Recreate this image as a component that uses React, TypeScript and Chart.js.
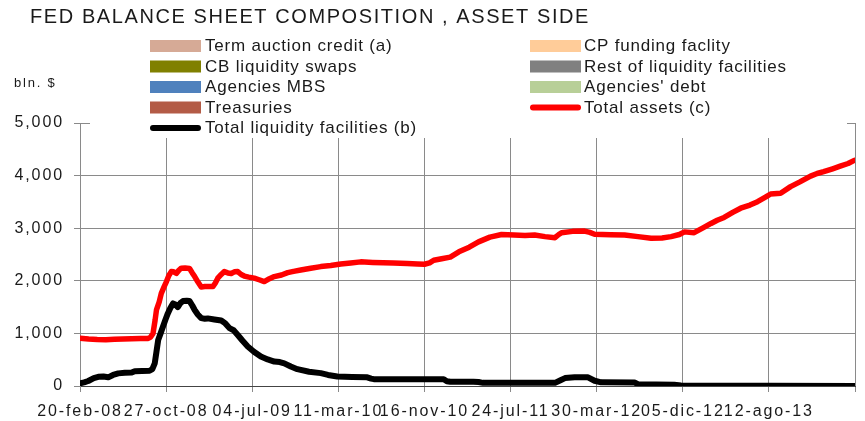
import React, { useEffect, useRef } from 'react';
import { Chart, registerables } from 'chart.js';

Chart.register(...registerables);

// ---- Data (x = days since 20-feb-2008, y = bln. $) ----
const START_DATE_UTC = Date.UTC(2008, 1, 20);
const MONTHS_ES = ['ene', 'feb', 'mar', 'abr', 'may', 'jun', 'jul', 'ago', 'sep', 'oct', 'nov', 'dic'];

const X_MAX_DAYS = 2250;
const X_STEP_DAYS = 250;
const Y_MAX = 5000;
const Y_STEP = 1000;

const totalAssetsDays = [
  0, 25, 50, 75, 100, 125, 150, 175, 198, 205, 212, 218, 222, 230, 236, 245, 251, 258, 265, 272,
  280, 287, 294, 305, 318, 326, 333, 342, 352, 362, 371, 386, 393, 400, 410, 419, 429, 439, 448, 458,
  468, 477, 490, 506, 520, 535, 550, 564, 585, 603, 620, 641, 670, 699, 728, 757, 786, 815, 850, 880,
  910, 950, 980, 1000, 1015, 1027, 1050, 1075, 1100, 1130, 1157, 1190, 1224, 1260, 1292, 1320, 1350, 1379, 1390, 1398,
  1430, 1465, 1480, 1494, 1540, 1581, 1620, 1658, 1690, 1716, 1740, 1755, 1783, 1810, 1832, 1850, 1870, 1895, 1918, 1945,
  1967, 1990, 2005, 2034, 2063, 2090, 2121, 2140, 2159, 2185, 2207, 2230, 2248,
];
const totalAssetsValues = [
  910, 895, 885, 880, 890, 895, 900, 905, 905, 930, 1000, 1250, 1445, 1600, 1760, 1900, 1985, 2100, 2175, 2170,
  2140, 2200, 2240, 2245, 2235, 2150, 2080, 1980, 1880, 1890, 1890, 1890, 1960, 2050, 2120, 2175, 2150, 2140, 2170, 2175,
  2120, 2090, 2070, 2050, 2020, 1985, 2040, 2080, 2110, 2155, 2180, 2205, 2240, 2270, 2290, 2320, 2340, 2360, 2350, 2345,
  2340, 2330, 2320, 2315, 2340, 2390, 2420, 2450, 2550, 2640, 2740, 2830, 2880, 2870, 2860, 2870, 2840, 2820, 2880, 2915,
  2940, 2945, 2920, 2885, 2875, 2870, 2840, 2810, 2815, 2840, 2880, 2930, 2915, 3010, 3090, 3150, 3205, 3300, 3380, 3440,
  3505, 3590, 3650, 3665, 3790, 3880, 3990, 4040, 4075, 4130, 4180, 4230, 4290,
];

const liquidityDays = [
  0, 12, 24, 40, 53, 68, 82, 96, 111, 130, 150, 159, 180, 202, 210, 217, 222, 227, 234, 241,
  248, 255, 262, 270, 277, 284, 292, 299, 310, 318, 326, 333, 342, 352, 362, 371, 390, 410, 422, 434,
  446, 458, 472, 487, 505, 525, 545, 564, 580, 593, 612, 631, 665, 699, 720, 747, 790, 834, 845, 853,
  950, 1056, 1065, 1075, 1142, 1157, 1170, 1300, 1379, 1395, 1408, 1436, 1475, 1494, 1513, 1610, 1620, 1725, 1745, 1800,
  2000, 2248,
];
const liquidityValues = [
  50, 70, 95, 150, 175, 180, 165, 210, 240, 250, 255, 280, 285, 290, 320, 430, 650, 875, 1000, 1130,
  1260, 1380, 1480, 1570, 1550, 1500, 1580, 1615, 1620, 1615, 1530, 1445, 1360, 1290, 1280, 1285, 1265, 1245, 1190, 1100,
  1060, 970, 860, 750, 650, 560, 505, 465, 455, 430, 370, 320, 270, 245, 210, 180, 170, 165, 140, 130,
  130, 127, 90, 80, 80, 75, 60, 60, 60, 110, 150, 165, 165, 100, 70, 65, 35, 25, 10, 5,
  3, 2,
];

// ---- Legend ----
const legendLeftLabels = [
  'Term auction credit (a)',
  'CB liquidity swaps',
  'Agencies MBS',
  'Treasuries',
  'Total liquidity facilities (b)',
];
const legendLeftColors = ['#D6AA96', '#808000', '#4F81BD', '#B35B46', '#000000'];
const legendLeftKinds = ['box', 'box', 'box', 'box', 'line'];

const legendRightLabels = [
  'CP funding faclity',
  'Rest of liquidity facilities',
  "Agencies' debt",
  'Total assets (c)',
];
const legendRightColors = ['#FFCC99', '#808080', '#B8CF98', '#FF0000'];
const legendRightKinds = ['box', 'box', 'box', 'line'];

const TITLE = 'FED BALANCE SHEET COMPOSITION , ASSET SIDE';
const UNIT_LABEL = 'bln. $';

const FONT = '"Liberation Sans", Arial, sans-serif';
const TEXT_COLOR = '#1a1a1a';
const GRID_COLOR = '#8a8a8a';

function dayLabel(d: number): string {
  const dt = new Date(START_DATE_UTC + d * 86400000);
  const dd = String(dt.getUTCDate()).padStart(2, '0');
  const yy = String(dt.getUTCFullYear()).slice(2);
  return `${dd}-${MONTHS_ES[dt.getUTCMonth()]}-${yy}`;
}

const overlayPlugin = {
  id: 'overlay',
  beforeDraw(chart: any) {
    chart.ctx.letterSpacing = '1.9px';
  },
  afterDraw(chart: any) {
    const ctx: CanvasRenderingContext2D = chart.ctx;
    const area = chart.chartArea;
    ctx.save();
    (ctx as any).letterSpacing = '0px';

    // legend background covering top of plot
    ctx.fillStyle = '#ffffff';
    ctx.fillRect(area.left + 10, 28, area.right - area.left - 18, area.top + 15 - 28);

    // title
    ctx.fillStyle = TEXT_COLOR;
    ctx.font = `20px ${FONT}`;
    ctx.textBaseline = 'middle';
    ctx.textAlign = 'left';
    const w0 = ctx.measureText(TITLE).width;
    const ls = (560 - w0) / TITLE.length;
    (ctx as any).letterSpacing = `${ls}px`;
    ctx.fillText(TITLE, 30, 17);

    // unit label
    ctx.font = `13px ${FONT}`;
    (ctx as any).letterSpacing = '1.8px';
    ctx.fillText(UNIT_LABEL, 14, 83);

    // legend
    ctx.font = `17px ${FONT}`;
    (ctx as any).letterSpacing = '0.8px';
    const drawColumn = (labels: string[], colors: string[], kinds: string[], x1: number, x2: number, tx: number) => {
      labels.forEach((lab, i) => {
        const cy = 46 + i * 20.5;
        if (kinds[i] === 'box') {
          ctx.fillStyle = colors[i];
          ctx.fillRect(x1, cy - 6, x2 - x1, 12);
        } else {
          ctx.strokeStyle = colors[i];
          ctx.lineWidth = 6;
          ctx.lineCap = 'round';
          ctx.beginPath();
          ctx.moveTo(x1 + 3, cy);
          ctx.lineTo(x2 - 3, cy);
          ctx.stroke();
        }
        ctx.fillStyle = TEXT_COLOR;
        ctx.fillText(lab, tx, cy + 0.5);
      });
    };
    drawColumn(legendLeftLabels, legendLeftColors, legendLeftKinds, 150, 201, 205);
    drawColumn(legendRightLabels, legendRightColors, legendRightKinds, 530, 581, 584);

    ctx.restore();
  },
};

export default function App() {
  const canvasRef = useRef<HTMLCanvasElement | null>(null);

  useEffect(() => {
    document.body.style.margin = '0';
    const canvas = canvasRef.current;
    if (!canvas) return;

    const chart = new Chart(canvas, {
      type: 'line',
      data: {
        datasets: [
          {
            label: 'Total assets (c)',
            data: totalAssetsDays.map((d, i) => ({ x: d, y: totalAssetsValues[i] })),
            borderColor: '#FF0000',
            borderWidth: 5.5,
            pointRadius: 0,
            tension: 0,
            borderJoinStyle: 'round',
            borderCapStyle: 'round',
            fill: false,
          },
          {
            label: 'Total liquidity facilities (b)',
            data: liquidityDays.map((d, i) => ({ x: d, y: liquidityValues[i] })),
            borderColor: '#000000',
            borderWidth: 6,
            pointRadius: 0,
            tension: 0,
            borderJoinStyle: 'round',
            borderCapStyle: 'round',
            fill: false,
          },
        ],
      },
      options: {
        animation: false,
        responsive: false,
        devicePixelRatio: 1,
        layout: { padding: { top: 123, right: 7, left: 0, bottom: 0 } },
        plugins: {
          legend: { display: false },
          title: { display: false },
          tooltip: { enabled: false },
        },
        scales: {
          x: {
            type: 'linear',
            min: 0,
            max: X_MAX_DAYS,
            afterFit: (scale: any) => {
              scale.height = 35;
            },
            grid: {
              color: GRID_COLOR,
              lineWidth: 1,
              tickLength: 6,
              drawOnChartArea: true,
            },
            border: { display: true, color: '#444444', width: 1 },
            ticks: {
              stepSize: X_STEP_DAYS,
              autoSkip: false,
              maxRotation: 0,
              minRotation: 0,
              padding: 10,
              color: TEXT_COLOR,
              font: { family: FONT, size: 16 },
              callback: (v: any) => (Number(v) >= X_MAX_DAYS ? '' : dayLabel(Number(v))),
            },
          },
          y: {
            type: 'linear',
            min: 0,
            max: Y_MAX,
            afterFit: (scale: any) => {
              scale.width = 80;
            },
            grid: {
              color: GRID_COLOR,
              lineWidth: 1,
              tickLength: 6,
            },
            border: { display: true, color: GRID_COLOR, width: 1 },
            ticks: {
              stepSize: Y_STEP,
              padding: 10,
              color: TEXT_COLOR,
              font: { family: FONT, size: 16 },
              callback: (v: any) => Number(v).toLocaleString('en-US'),
            },
          },
        },
      },
      plugins: [overlayPlugin],
    } as any);

    return () => {
      chart.destroy();
    };
  }, []);

  return (
    <div style={{ width: 865, height: 421 }}>
      <canvas ref={canvasRef} width={865} height={421} style={{ display: 'block' }} />
    </div>
  );
}
